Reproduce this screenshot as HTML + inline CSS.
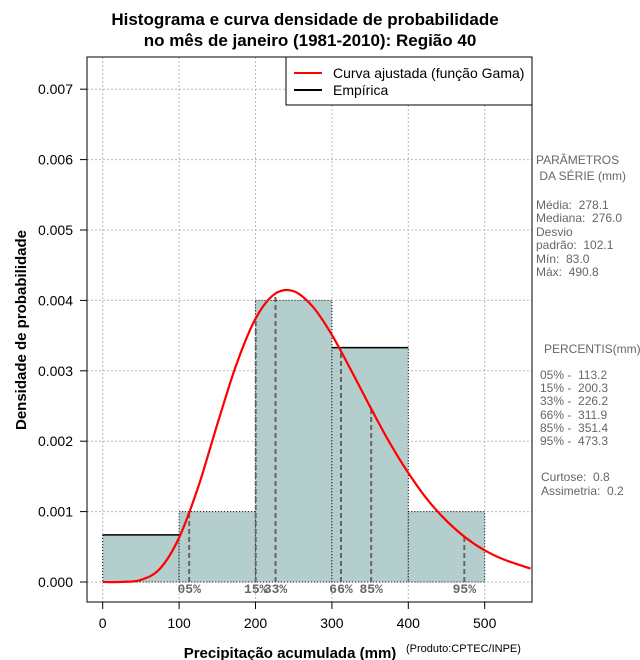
<!DOCTYPE html>
<html><head><meta charset="utf-8"><style>
body{margin:0;background:#fff;width:640px;height:660px;overflow:hidden}
svg{display:block;font-family:"Liberation Sans",sans-serif}
.st text{white-space:pre}
</style></head><body>
<svg id="chart" width="640" height="660">
<text x="305" y="25" text-anchor="middle" font-size="17" font-weight="bold">Histograma e curva densidade de probabilidade</text>
<text x="310" y="46" text-anchor="middle" font-size="17" font-weight="bold">no mês de janeiro (1981-2010): Região 40</text>
<g id="grid"></g><g id="bars"></g><g id="pct"></g><g id="curve"></g><g id="axes"></g>
<rect x="87" y="57" width="445" height="545" fill="none" stroke="#000"/>
<g>
<rect x="286" y="57" width="246" height="48" fill="#fff" stroke="#000"/>
<line x1="294" y1="73" x2="322" y2="73" stroke="red" stroke-width="2"/>
<text x="333" y="78" font-size="14">Curva ajustada (função Gama)</text>
<line x1="294" y1="90" x2="322" y2="90" stroke="#000" stroke-width="2"/>
<text x="333" y="95" font-size="14">Empírica</text>
</g>
<text transform="translate(26,330) rotate(-90)" text-anchor="middle" font-size="15" font-weight="bold">Densidade de probabilidade</text>
<text x="290" y="658" text-anchor="middle" font-size="15" font-weight="bold">Precipitação acumulada (mm)</text>
<text x="406" y="652" font-size="11">(Produto:CPTEC/INPE)</text>
<g class="st" font-size="12" fill="#666">
<text x="536" y="164">PARÂMETROS</text><text x="536" y="180"> DA SÉRIE (mm)</text>
<text x="536" y="209">Média:  278.1</text><text x="536" y="222">Mediana:  276.0</text>
<text x="536" y="236">Desvio</text><text x="536" y="249">padrão:  102.1</text>
<text x="536" y="263">Mín:  83.0</text><text x="536" y="276">Máx:  490.8</text>
<text x="544" y="353">PERCENTIS(mm)</text>
<text x="540" y="379">05% -  113.2</text><text x="540" y="392">15% -  200.3</text>
<text x="540" y="405">33% -  226.2</text><text x="540" y="419">66% -  311.9</text>
<text x="540" y="432">85% -  351.4</text><text x="540" y="445">95% -  473.3</text>
<text x="541" y="481">Curtose:  0.8</text><text x="541" y="495">Assimetria:  0.2</text>
</g>
</svg>
<script>
const binEdges=[0,100,200,300,400,500];
const binDensity=[0.00067,0.001,0.004,0.00333,0.001];
const binSolidTop=[true,false,false,true,false];
const curveX=[0,25,50,75,100,125,150,175,200,225,250,275,300,325,350,375,400,425,450,475,500,525,560];
const curveY=[0,0.000001,0.00003,0.00019,0.00063,0.00135,0.00224,0.00309,0.00374,0.00409,0.00413,0.00391,0.00351,0.00301,0.00249,0.00199,0.00155,0.00117,0.00087,0.00063,0.00045,0.00032,0.00019];
const pctNames=["05%","15%","33%","66%","85%","95%"];
const pctValues=[113.2,200.3,226.2,311.9,351.4,473.3];
const xTicks=[0,100,200,300,400,500];
const yTicks=[0,0.001,0.002,0.003,0.004,0.005,0.006,0.007];
const NS="http://www.w3.org/2000/svg";
const X=v=>102.7+v*0.7640;
const Y=v=>582-v*70400;
function el(tag,attrs,parent){const e=document.createElementNS(NS,tag);for(const k in attrs)e.setAttribute(k,attrs[k]);parent.appendChild(e);return e;}
function interp(x){for(let i=1;i<curveX.length;i++){if(x<=curveX[i]){const t=(x-curveX[i-1])/(curveX[i]-curveX[i-1]);return curveY[i-1]+t*(curveY[i]-curveY[i-1]);}}return curveY[curveY.length-1];}
const grid=document.getElementById('grid'),bars=document.getElementById('bars'),pct=document.getElementById('pct'),curve=document.getElementById('curve'),axes=document.getElementById('axes');
xTicks.forEach(t=>{const l=el('line',{x1:X(t),x2:X(t),y1:57,y2:602,stroke:'#bbb','stroke-dasharray':'2,2'},grid);


const tk=el('line',{x1:X(t),x2:X(t),y1:602,y2:609,stroke:'#000'},axes);


const tx=el('text',{x:X(t),y:628,'text-anchor':'middle','font-size':14},axes);tx.textContent=t;

});
yTicks.forEach(t=>{const l=el('line',{x1:87,x2:532,y1:Y(t),y2:Y(t),stroke:'#bbb','stroke-dasharray':'2,2'},grid);


const tk=el('line',{x1:80,x2:87,y1:Y(t),y2:Y(t),stroke:'#000'},axes);


const tx=el('text',{x:73,y:Y(t)+5,'text-anchor':'end','font-size':14},axes);tx.textContent=t.toFixed(3);

});
binDensity.forEach((d,i)=>{const r=el('rect',{x:X(binEdges[i]),y:Y(d),width:X(binEdges[i+1])-X(binEdges[i]),height:Y(0)-Y(d),fill:'#b4cdcd',stroke:'#000','stroke-dasharray':'1,2'},bars);


if(binSolidTop[i]){const tp=el('line',{x1:X(binEdges[i]),x2:X(binEdges[i+1]),y1:Y(d),y2:Y(d),stroke:'#000','stroke-width':1.5},bars);

}});
pctValues.forEach((v,i)=>{const l=el('line',{x1:X(v),x2:X(v),y1:Y(0),y2:Y(interp(v)),stroke:'#666','stroke-width':2,'stroke-dasharray':'5,3'},pct);


const tx=el('text',{x:X(v),y:593,'text-anchor':'middle','font-size':13,'font-weight':'bold',fill:'#666','font-family':'Liberation Mono, monospace'},pct);tx.textContent=pctNames[i];

});
const pts=curveX.map((x,i)=>[X(x),Y(curveY[i])]);
let dstr='M'+pts[0][0]+','+pts[0][1];
for(let i=0;i<pts.length-1;i++){const p0=pts[Math.max(0,i-1)],p1=pts[i],p2=pts[i+1],p3=pts[Math.min(pts.length-1,i+2)];
const c1=[p1[0]+(p2[0]-p0[0])/6,p1[1]+(p2[1]-p0[1])/6],c2=[p2[0]-(p3[0]-p1[0])/6,p2[1]-(p3[1]-p1[1])/6];
dstr+='C'+c1[0].toFixed(1)+','+c1[1].toFixed(1)+' '+c2[0].toFixed(1)+','+c2[1].toFixed(1)+' '+p2[0].toFixed(1)+','+p2[1].toFixed(1);}
const p=el('path',{d:dstr,fill:'none',stroke:'red','stroke-width':2.2,'stroke-linejoin':'round'},curve);


</script>
</body></html>
